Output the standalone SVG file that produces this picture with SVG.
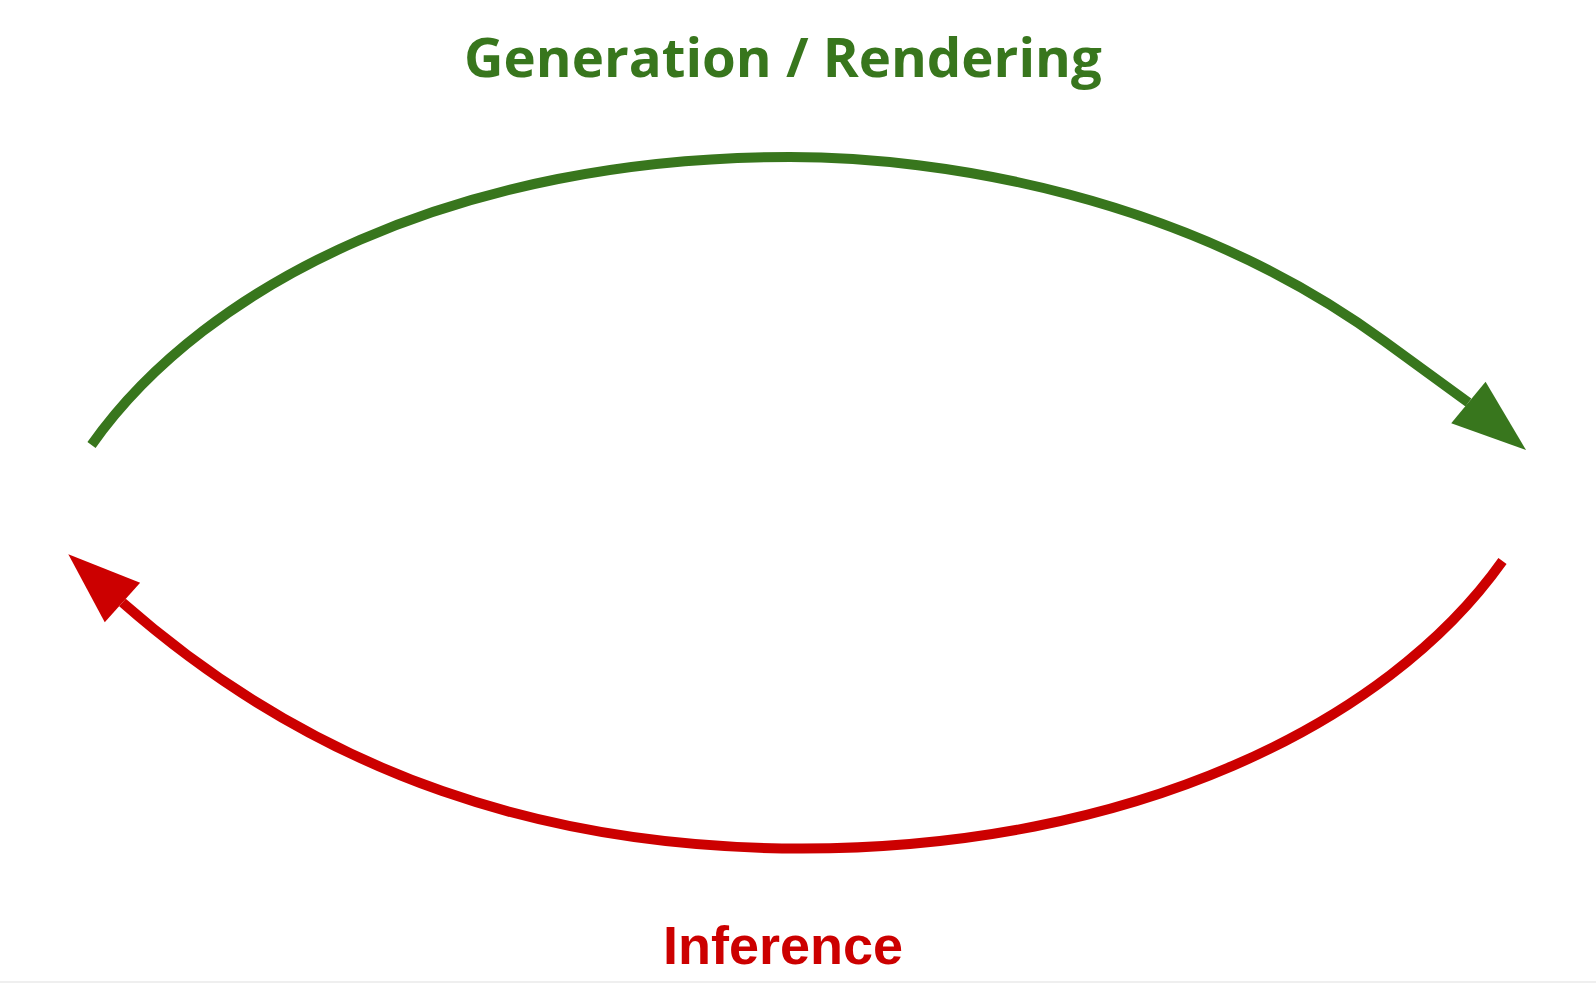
<svg xmlns="http://www.w3.org/2000/svg" width="1596" height="983" viewBox="0 0 1596 983">
  <style>
    .conn { fill: none; stroke-width: 10; stroke-linecap: butt; stroke-linejoin: round; }
    .green { stroke: #38761d; }
    .red { stroke: #cc0000; }
    .title { font-family: "Open Sans", "Noto Sans", "Liberation Sans", sans-serif; font-weight: 700; font-size: 54.6px; fill: #38761d; }
    .inf { font-family: "Liberation Sans", Arial, sans-serif; font-weight: 700; font-size: 54px; fill: #cc0000; }
  </style>
  <defs>
    <marker id="ah-green" markerUnits="userSpaceOnUse" markerWidth="80" markerHeight="60" refX="0" refY="27" orient="39.5" overflow="visible">
      <path d="M0,0 L74.7,27 L0,54 Z" fill="#38761d"/>
    </marker>
    <marker id="ah-red" markerUnits="userSpaceOnUse" markerWidth="80" markerHeight="60" refX="0" refY="26.6" orient="-138.3" overflow="visible">
      <path d="M0,0 L72.5,26.6 L0,53.2 Z" fill="#cc0000"/>
    </marker>
  </defs>
  <rect x="0" y="0" width="1596" height="983" fill="#ffffff"/>
  <rect x="0" y="981" width="1596" height="2" fill="#efefef"/>
  <g id="connectors">
    <path id="generation-arc" class="conn green" d="M 91.5,445 C 206.9,281.6 460,157 790,157 C 940,157 1184,195 1384,341 L 1468.4,402.5" marker-end="url(#ah-green)"/>
    <path id="inference-arc" class="conn red" d="M 1502.5,561 C 1387,724 1132,848.5 802,848.5 C 550,848.5 321.2,777.4 122.45,602.5" marker-end="url(#ah-red)"/>
  </g>
  <g id="label-generation">
    <text class="title" x="464" y="77">Generation / Rendering</text>
  </g>
  <g id="label-inference">
    <text class="inf" x="663" y="964">Inference</text>
  </g>
</svg>
